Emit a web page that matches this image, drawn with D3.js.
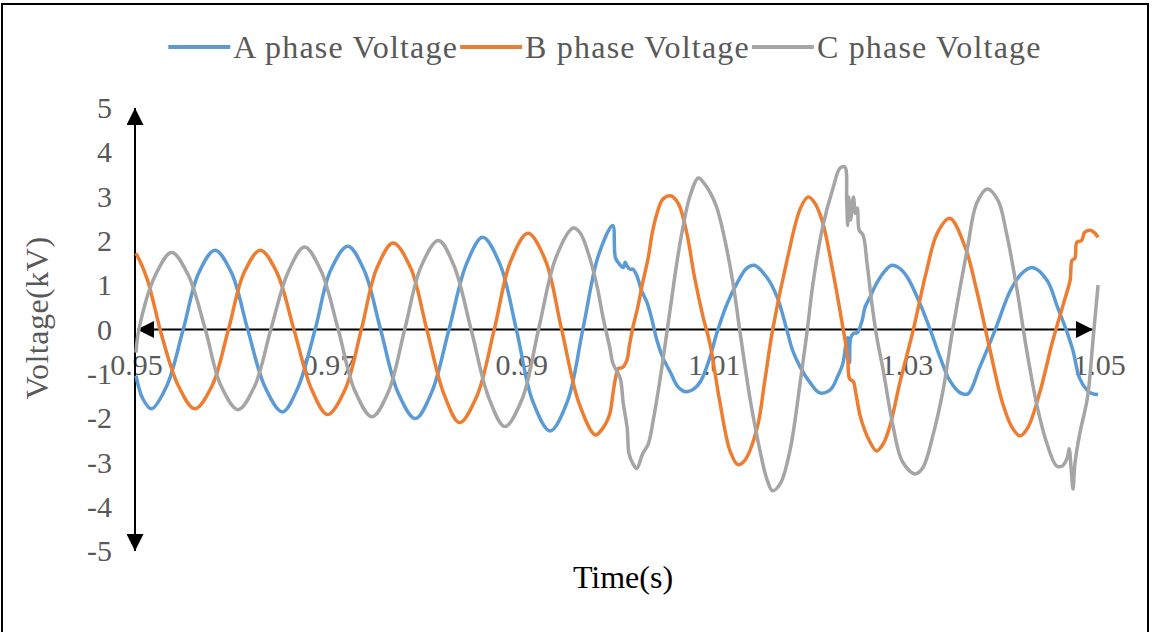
<!DOCTYPE html>
<html>
<head>
<meta charset="utf-8">
<script src="https://cdn.jsdelivr.net/npm/d3@7"></script>
<style>
    body { margin: 0; background: #fff; }
    svg  { display: block; font-family: "Liberation Serif", "DejaVu Serif", serif; }
</style>
</head>
<body>
<svg id="chart" width="1153" height="632"></svg>
<script>
// ── Datos (tiempo en s, tensión en kV) ───────────────────────
const seriesNames  = ['A phase Voltage', 'B phase Voltage', 'C phase Voltage'];
const seriesColors = ['#5B9BD5', '#ED7D31', '#A5A5A5'];
const xTicks = [0.95, 0.97, 0.99, 1.01, 1.03, 1.05];
const yTicks = [-5, -4, -3, -2, -1, 0, 1, 2, 3, 4, 5];

const phaseA = [
    [0.9500,-1.04],[0.9507,-1.56],[0.9516,-1.79],[0.9532,-1.27],[0.9549,0.00],[0.9565,1.27],
    [0.9582,1.79],[0.9599,1.29],[0.9616,0.00],[0.9634,-1.30],[0.9652,-1.86],[0.9668,-1.32],
    [0.9686,0.00],[0.9702,1.33],[0.9720,1.88],[0.9737,1.33],[0.9754,0.00],[0.9772,-1.42],
    [0.9790,-2.01],[0.9807,-1.42],[0.9825,0.00],[0.9843,1.47],[0.9860,2.08],[0.9878,1.47],
    [0.9895,0.00],[0.9912,-1.62],[0.9930,-2.29],[0.9948,-1.62],[0.9964,0.00],[0.9980,1.66],
    [0.9995,2.35],[0.9998,1.61],[1.0003,1.45],[1.0006,1.40],[1.0008,1.52],[1.0010,1.43],
    [1.0013,1.36],[1.0016,1.36],[1.0020,1.22],[1.0025,0.88],[1.0031,0.59],[1.0036,0.20],
    [1.0041,-0.25],[1.0047,-0.63],[1.0055,-0.97],[1.0062,-1.27],[1.0070,-1.40],[1.0078,-1.36],
    [1.0086,-1.18],[1.0096,-0.63],[1.0103,-0.09],[1.0114,0.59],[1.0124,1.04],[1.0134,1.38],
    [1.0142,1.45],[1.0155,1.18],[1.0166,0.72],[1.0176,-0.02],[1.0182,-0.48],[1.0190,-0.86],
    [1.0200,-1.20],[1.0210,-1.43],[1.0221,-1.36],[1.0229,-1.04],[1.0234,-0.77],[1.0237,-0.36],
    [1.0239,-0.18],[1.0241,-0.75],[1.0242,-0.20],[1.0245,-0.09],[1.0249,-0.07],[1.0254,0.20],
    [1.0257,0.50],[1.0262,0.72],[1.0269,1.04],[1.0278,1.33],[1.0285,1.45],[1.0293,1.38],
    [1.0301,1.18],[1.0314,0.59],[1.0325,-0.02],[1.0335,-0.63],[1.0345,-1.15],[1.0356,-1.43],
    [1.0364,-1.45],[1.0376,-0.86],[1.0392,-0.02],[1.0408,0.88],[1.0420,1.27],[1.0431,1.40],
    [1.0446,1.11],[1.0457,0.50],[1.0467,-0.07],[1.0473,-0.48],[1.0480,-1.11],[1.0488,-1.38],
    [1.0493,-1.45],[1.0499,-1.47]
];

const phaseB = [
    [0.9500,1.72],[0.9506,1.45],[0.9512,1.11],[0.9519,0.54],[0.9525,0.00],[0.9544,-1.27],
    [0.9561,-1.79],[0.9579,-1.27],[0.9596,0.00],[0.9612,1.27],[0.9629,1.79],[0.9646,1.30],
    [0.9664,0.00],[0.9682,-1.33],[0.9699,-1.92],[0.9717,-1.36],[0.9734,0.00],[0.9750,1.38],
    [0.9767,1.95],[0.9785,1.40],[0.9802,0.00],[0.9820,-1.47],[0.9836,-2.10],[0.9854,-1.50],
    [0.9872,0.00],[0.9889,1.54],[0.9907,2.17],[0.9925,1.57],[0.9942,0.00],[0.9960,-1.66],
    [0.9977,-2.38],[0.9985,-2.22],[0.9992,-1.90],[0.9995,-1.49],[0.9998,-1.09],[1.0001,-0.88],
    [1.0005,-0.86],[1.0010,-0.68],[1.0012,-0.41],[1.0016,0.05],[1.0021,0.50],[1.0026,1.04],
    [1.0032,1.63],[1.0036,2.17],[1.0041,2.62],[1.0047,2.94],[1.0055,3.02],[1.0063,2.85],
    [1.0072,2.17],[1.0080,1.18],[1.0089,0.27],[1.0096,-0.32],[1.0106,-1.60],[1.0117,-2.75],
    [1.0125,-3.05],[1.0132,-2.96],[1.0145,-2.22],[1.0153,-1.15],[1.0161,-0.02],[1.0176,1.56],
    [1.0190,2.74],[1.0198,2.99],[1.0205,2.85],[1.0213,2.42],[1.0224,1.27],[1.0231,0.43],
    [1.0236,-0.20],[1.0239,-0.63],[1.0241,-1.11],[1.0245,-1.18],[1.0247,-1.38],[1.0252,-1.95],
    [1.0257,-2.29],[1.0262,-2.53],[1.0269,-2.74],[1.0276,-2.58],[1.0283,-2.17],[1.0293,-1.22],
    [1.0307,-0.02],[1.0321,1.33],[1.0332,2.17],[1.0345,2.51],[1.0361,1.86],[1.0373,0.88],
    [1.0387,-0.48],[1.0400,-1.67],[1.0410,-2.22],[1.0418,-2.40],[1.0426,-2.22],[1.0439,-1.38],
    [1.0452,-0.25],[1.0465,0.72],[1.0470,1.11],[1.0472,1.56],[1.0475,1.61],[1.0477,1.97],
    [1.0482,2.01],[1.0485,2.19],[1.0491,2.24],[1.0496,2.17],[1.0499,2.08]
];

const phaseC = [
    [0.9500,-0.52],[0.9503,0.00],[0.9520,1.22],[0.9537,1.74],[0.9554,1.24],[0.9572,0.00],
    [0.9588,-1.26],[0.9606,-1.81],[0.9623,-1.29],[0.9640,0.00],[0.9658,1.30],[0.9675,1.86],
    [0.9692,1.33],[0.9710,0.00],[0.9727,-1.37],[0.9745,-1.97],[0.9762,-1.41],[0.9779,0.00],
    [0.9796,1.42],[0.9814,2.01],[0.9830,1.45],[0.9848,0.00],[0.9866,-1.52],[0.9883,-2.19],
    [0.9901,-1.57],[0.9918,0.00],[0.9936,1.62],[0.9954,2.29],[0.9961,2.19],[0.9971,1.63],
    [0.9979,0.95],[0.9985,0.27],[0.9992,-0.41],[0.9995,-0.75],[0.9999,-0.93],[1.0003,-1.11],
    [1.0006,-1.67],[1.0010,-2.22],[1.0012,-2.81],[1.0016,-3.03],[1.0020,-3.14],[1.0026,-2.81],
    [1.0032,-2.58],[1.0037,-2.06],[1.0044,-1.15],[1.0049,-0.41],[1.0055,0.50],[1.0062,1.56],
    [1.0068,2.31],[1.0075,2.99],[1.0084,3.42],[1.0090,3.30],[1.0096,3.10],[1.0103,2.76],
    [1.0110,2.17],[1.0120,1.04],[1.0127,-0.02],[1.0138,-1.61],[1.0148,-2.74],[1.0155,-3.37],
    [1.0161,-3.64],[1.0169,-3.48],[1.0179,-2.74],[1.0190,-1.15],[1.0197,-0.02],[1.0203,1.04],
    [1.0213,2.31],[1.0224,3.21],[1.0231,3.64],[1.0236,3.67],[1.0238,2.92],[1.0239,2.35],
    [1.0240,2.99],[1.0242,2.47],[1.0245,2.99],[1.0247,2.62],[1.0249,2.74],[1.0251,2.24],
    [1.0255,2.13],[1.0259,1.52],[1.0264,0.61],[1.0269,-0.14],[1.0276,-0.93],[1.0286,-2.17],
    [1.0296,-2.99],[1.0309,-3.26],[1.0317,-3.12],[1.0328,-2.35],[1.0338,-1.38],[1.0348,-0.02],
    [1.0363,1.79],[1.0373,2.85],[1.0384,3.17],[1.0395,2.92],[1.0404,2.17],[1.0415,0.88],
    [1.0425,-0.48],[1.0436,-1.76],[1.0446,-2.58],[1.0456,-3.08],[1.0462,-3.08],[1.0467,-2.90],
    [1.0469,-2.69],[1.0471,-3.12],[1.0473,-3.60],[1.0475,-3.03],[1.0480,-2.35],[1.0488,-1.54],
    [1.0494,-0.18],[1.0499,1.00]
];

const series = [phaseA, phaseB, phaseC];

// ── Escalas ──────────────────────────────────────────────────
const svg = d3.select('#chart');
const x = d3.scaleLinear().domain([0.95, 1.05]).range([136, 1099]);
const y = d3.scaleLinear().domain([-5, 5]).range([551, 108]);
const textGray = '#595959';

// Marco exterior
svg.append('rect')
    .attr('x', 2).attr('y', 4).attr('width', 1146).attr('height', 700)
    .attr('fill', 'none').attr('stroke', '#000').attr('stroke-width', 2);

// Flecha
svg.append('defs').append('marker')
    .attr('id', 'arrow').attr('viewBox', '0 0 10 10')
    .attr('refX', 10).attr('refY', 5)
    .attr('markerWidth', 17).attr('markerHeight', 17)
    .attr('markerUnits', 'userSpaceOnUse')
    .attr('orient', 'auto-start-reverse')
    .append('path').attr('d', 'M0,0L10,5L0,10Z').attr('fill', '#000');

// ── Ejes ─────────────────────────────────────────────────────
const xAxisG = svg.append('g')
    .attr('transform', `translate(0,${y(0)})`)
    .call(d3.axisBottom(x).tickValues(xTicks).tickSize(0).tickPadding(24)
        .tickFormat(d => d.toFixed(2)));
xAxisG.select('.domain').remove();
xAxisG.selectAll('text')
    .attr('fill', textGray).style('font-size', '30px')
    .style('font-family', '"Liberation Serif", serif');

const yAxisG = svg.append('g')
    .attr('transform', `translate(${x(0.95) - 1},0)`)
    .call(d3.axisLeft(y).tickValues(yTicks).tickSize(0).tickPadding(23)
        .tickFormat(d => String(d)));
yAxisG.select('.domain').remove();
yAxisG.selectAll('text')
    .attr('fill', textGray).style('font-size', '30px')
    .style('font-family', '"Liberation Serif", serif');

svg.append('line')
    .attr('x1', x(0.95) - 1).attr('x2', x(0.95) - 1)
    .attr('y1', y(5)).attr('y2', y(-5))
    .attr('stroke', '#000').attr('stroke-width', 2)
    .attr('marker-start', 'url(#arrow)').attr('marker-end', 'url(#arrow)');

svg.append('line')
    .attr('x1', x(0.95) + 1).attr('x2', x(1.05) - 6)
    .attr('y1', y(0)).attr('y2', y(0))
    .attr('stroke', '#000').attr('stroke-width', 2)
    .attr('marker-start', 'url(#arrow)').attr('marker-end', 'url(#arrow)');

// Títulos de ejes
svg.append('text')
    .attr('transform', 'translate(48,318) rotate(-90)')
    .attr('text-anchor', 'middle')
    .attr('fill', textGray).style('font-size', '32px')
    .style('letter-spacing', '0.5px')
    .text('Voltage(kV)');

svg.append('text')
    .attr('x', 623).attr('y', 588)
    .attr('text-anchor', 'middle')
    .attr('fill', '#000').style('font-size', '32px')
    .text('Time(s)');

// ── Series ───────────────────────────────────────────────────
const line = d3.line()
    .x(d => x(d[0])).y(d => y(d[1]))
    .curve(d3.curveCatmullRom.alpha(0.5));

series.forEach((data, i) => {
    svg.append('path')
        .datum(data)
        .attr('d', line)
        .attr('fill', 'none')
        .attr('stroke', seriesColors[i])
        .attr('stroke-width', 3.5)
        .attr('stroke-linejoin', 'round');
});

// ── Leyenda ──────────────────────────────────────────────────
const legend = svg.append('g');
const swatch = 62, gapAfter = 3, gapBetween = 2, legendY = 47;
let cursor = 0;
seriesNames.forEach((name, i) => {
    const g = legend.append('g');
    g.append('line')
        .attr('x1', 0).attr('x2', swatch)
        .attr('y1', legendY).attr('y2', legendY)
        .attr('stroke', seriesColors[i]).attr('stroke-width', 4);
    const t = g.append('text')
        .attr('x', swatch + gapAfter).attr('y', legendY + 11)
        .attr('fill', textGray).style('font-size', '32px')
        .style('letter-spacing', '1.2px')
        .text(name);
    const w = swatch + gapAfter + t.node().getComputedTextLength();
    g.attr('transform', `translate(${cursor},0)`);
    cursor += w + gapBetween;
});
const legendW = cursor - gapBetween;
legend.attr('transform', `translate(${605 - legendW / 2},0)`);
</script>
</body>
</html>
